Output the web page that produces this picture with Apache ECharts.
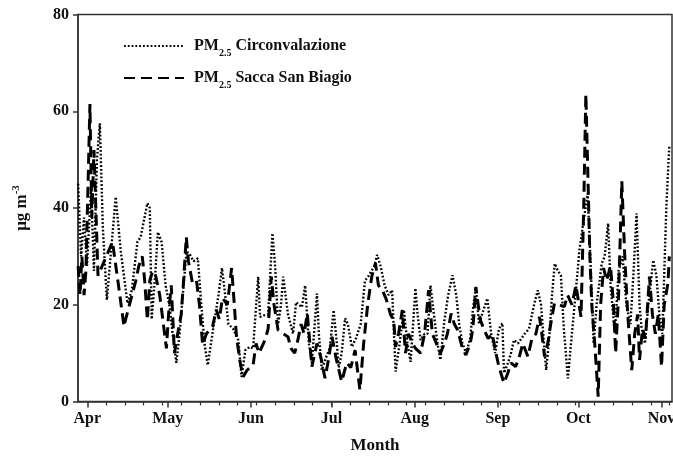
<!DOCTYPE html>
<html>
<head>
<meta charset="utf-8">
<script src="https://cdn.jsdelivr.net/npm/echarts@6/dist/echarts.min.js"></script>
<style>html,body{margin:0;padding:0;background:#fff}#c{width:673px;height:458px}</style>
</head>
<body>
<div id="c"></div>
<script>
// x values: days counted from 1 April
const monthDays = [0, 30, 61, 91, 122, 153, 183, 214];
const monthLabels = ['Apr', 'May', 'Jun', 'Jul', 'Aug', 'Sep', 'Oct', 'Nov'];
const yTicks = [0, 20, 40, 60, 80];

const seriesNames = ['Circonvalazione', 'Sacca San Biagio'];

const daysC = [-3.4,-2.3,-1.2,-0.1,1.4,2.5,3.6,4.7,5.8,7.3,10.6,12.5,15,16.6,18.7,19.9,22.4,23.3,24,25.3,26.3,27.7,29.2,30.7,31.8,33.2,34.4,35.9,37,38.1,39.6,41.2,42.5,43.7,44.9,46.1,47.4,48.9,50.2,51.4,52.6,54.4,56.3,57.5,58.9,60.6,61.8,63.7,64.4,65.9,67.4,69,70,71.1,72.2,73,74.8,76.7,77.8,78.9,80,81.2,82.6,83.7,84.5,85.6,86.3,87.4,88.9,90.4,91.8,93,93.7,94.8,96.1,97.1,98.6,100.1,101.9,103.5,104.9,105.9,107,108,109.3,110.8,112.3,113.6,114.9,116.4,118,119.3,120.5,122.3,123.1,124.2,125.7,126.8,127.9,129.4,130.5,131.6,133.1,134.5,136.1,137.5,138.6,139.8,141.2,142.7,143.7,144.8,146,147.1,149.1,150.5,152,153.4,154.7,155.3,156.8,157.9,159,160.5,163,164.6,166.5,167.9,169.1,170.2,171,172,173.2,174.2,175.4,176.5,177.6,179.1,180.6,182.1,183.4,184.6,186.5,187.6,188.7,189.8,191.7,192.8,194.1,195,196.6,198,199.5,200.9,202.4,203.5,204.7,205.8,206.5,207.8,209.1,210.9,212.1,213.2,214.3,215.8,216.9];
const valsC = [45,30,38,28,44,27,50,57.5,36,21,42.3,31,20.3,23,33,34,41,40,17,26,35,33,24,19.6,14,8,14,24,31,30.5,29,29.6,20,12,7.5,12,16.8,22,27.6,22,16,15,12.7,5.1,10.6,11.3,11,25.8,17.5,17.8,18,34.8,28,16,20,25.8,18,14,20.5,20,19.5,24,12,8,14,22.3,14,6.5,9,11,18.9,12,7,10,17.2,16,11.3,13,16,25,26,27,28,30.3,28,24,22,23,6.2,12,18.9,12,8.2,23.4,18,12.7,14,14,24,17,12,8.6,16.8,22,26.1,22,16,12,10,13,19,23.7,16,18,21.3,14,10,15,16.2,5.9,8,10,12.7,12,14,15,20,23,20,12,6.5,12,22,28.5,27,26,15,4.8,14,23,31.3,36,43,28,12,20,28.5,30,36.8,24,14,27,30,20,16,26,38.9,20,15.5,12,20,29.2,26,18,14,40.3,53];

const daysS = [-3.4,-2.7,-2,-1.2,-0.5,0.3,1,1.7,2.5,3.2,4,9.4,11.4,13.7,14.3,16.2,18.1,19.2,20.5,21.4,22.4,23.3,24.4,25.5,27,29.5,30.3,31.3,32.5,33.7,35,35.9,36.9,37.7,39.2,40.7,41.8,43,44.4,46.7,48.1,49.2,50.4,52.2,53.8,54.8,55.6,57,58.1,59.6,61.8,62.9,64,66.2,67.4,68.6,69.6,71.1,73,74.8,75.9,77.3,78.2,79.7,80.8,82,83.7,85.6,87.1,88.6,90,91.2,92.7,94.8,96.7,98.2,99.8,101.6,103,104.5,106,107.4,108.5,110,111.5,113,114.2,114.9,116,117.4,118.6,119.7,121.2,122.3,124.2,125.7,127.2,128.6,130.1,131.6,133.1,134.2,135.6,136.8,138,139.8,141.1,142.7,143.7,144.8,146.4,147.9,149.4,150.9,152.3,153.4,155.3,156.8,157.9,159.6,160.9,162.3,164.2,165.7,167.2,168.5,169.4,170.4,171.6,172.7,174.1,175.7,177.8,179,180.6,182.1,184,185,185.8,186.5,187.3,188,189.1,190.4,191.3,192.4,193.5,195,196.1,196.9,198,199.2,200.3,201.4,202.9,204,205.1,205.8,206.9,208,209.5,210.6,211.7,212.8,214,215,216.4,216.9];
const valsS = [28,22,30,22,27,45,61.5,38,52,40,26,33,25,15.5,17,21,25,28,30,25,16.8,25,27,26,22,11,18,24,10,14,18,25,34,29,24.5,25,20,11.7,14,15.5,19,17,21.4,20,27.6,20,13.4,8,5.1,6.5,7.5,12,10,12.7,15,25.8,20,14.8,14,13.4,11,10,12,16,14,18.2,7.2,12,9,4.8,9,13.4,9,4.1,8,7,10.6,2.4,12,20,25.8,28.6,24,23,21,18,16.8,11.3,14,18.9,10,14,12,11,10,14,23,14,12,10,12,14,18.2,16,14.8,11,9.6,12,15,23.7,17,14.8,13,14,10,7.2,3.8,6,8,7.2,9,12,9.3,13,14,17.5,14,9.3,12,16,20.3,20,19.6,22,20,24,17.5,40,63.5,48,30,20,12,1,20,27.6,25,28,20,10,22,45.5,30,18,6.5,14,18,8.6,15,13,25.8,18,14,18,7.2,20,24.5,30];

const pairs = (xs, ys) => xs.map((x, i) => [x, ys[i]]);
const weekTicks = [];
for (let d = 7; d <= 217; d += 7) weekTicks.push(d);

const FONT = 'Liberation Serif';
const XMIN = -3.45, XMAX = 217.9;

const chart = echarts.init(document.getElementById('c'), null, {renderer: 'canvas'});
chart.setOption({
  animation: false,
  backgroundColor: '#fff',
  grid: {left: 78, right: 1, top: 14.5, bottom: 56.5, show: true, borderColor: '#333', borderWidth: 1.5,
    backgroundColor: 'transparent', containLabel: false, outerBoundsMode: 'none'},
  legend: {
    orient: 'vertical', left: 118, top: 33, itemWidth: 60, itemHeight: 14, itemGap: 12,
    data: seriesNames,
    itemStyle: {opacity: 0},
    formatter: n => '{sp|}{b|PM}{s|2.5}{b| ' + n + '}',
    textStyle: {
      fontFamily: FONT, fontWeight: 'bold', fontSize: 16, color: '#111',
      rich: {
        sp: {width: 5},
        b: {fontFamily: FONT, fontWeight: 'bold', fontSize: 16, color: '#111'},
        s: {fontFamily: FONT, fontWeight: 'bold', fontSize: 10, color: '#111', padding: [14, 0, 0, 0]}
      }
    }
  },
  xAxis: [{
    type: 'value', min: XMIN, max: XMAX,
    name: 'Month', nameLocation: 'middle', nameGap: 36,
    nameTextStyle: {fontFamily: FONT, fontWeight: 'bold', fontSize: 17, color: '#111'},
    axisLine: {onZero: false, lineStyle: {color: '#333', width: 1.5}},
    axisTick: {customValues: monthDays, length: 6, lineStyle: {color: '#333', width: 1.5}},
    axisLabel: {customValues: monthDays, margin: 9, fontFamily: FONT, fontWeight: 'bold', fontSize: 16, color: '#111',
      hideOverlap: false,
      formatter: v => monthLabels[monthDays.indexOf(Math.round(v))] || ''},
    splitLine: {show: false}
  }, {
    type: 'value', min: XMIN, max: XMAX, position: 'bottom', gridIndex: 0,
    axisLine: {show: false, onZero: false},
    axisTick: {customValues: weekTicks, length: 4, lineStyle: {color: '#333', width: 1.2}},
    axisLabel: {show: false},
    splitLine: {show: false}
  }],
  yAxis: {
    type: 'value', min: 0, max: 80, interval: 20,
    name: 'μg m{sup|-3}', nameLocation: 'middle', nameGap: 46, nameRotate: 90,
    nameTextStyle: {fontFamily: FONT, fontWeight: 'bold', fontSize: 17, color: '#111',
      rich: {sup: {fontFamily: FONT, fontWeight: 'bold', fontSize: 11, color: '#111', padding: [0, 0, 10, 0]}}},
    axisLine: {show: true, onZero: false, lineStyle: {color: '#333', width: 1.5}},
    axisTick: {show: true, length: 5, lineStyle: {color: '#333', width: 1.5}},
    axisLabel: {margin: 9, fontFamily: FONT, fontWeight: 'bold', fontSize: 16, color: '#111',
      formatter: v => yTicks.includes(v) ? String(v) : ''},
    splitLine: {show: false}
  },
  series: [{
    name: seriesNames[0], type: 'line', symbol: 'none', xAxisIndex: 0,
    data: pairs(daysC, valsC),
    itemStyle: {color: '#000'},
    lineStyle: {color: '#000', width: 2.4, type: [1.8, 2]}
  }, {
    name: seriesNames[1], type: 'line', symbol: 'none', xAxisIndex: 0,
    data: pairs(daysS, valsS),
    itemStyle: {color: '#000'},
    lineStyle: {color: '#000', width: 3, type: [11, 6]}
  }]
});
</script>
</body>
</html>
